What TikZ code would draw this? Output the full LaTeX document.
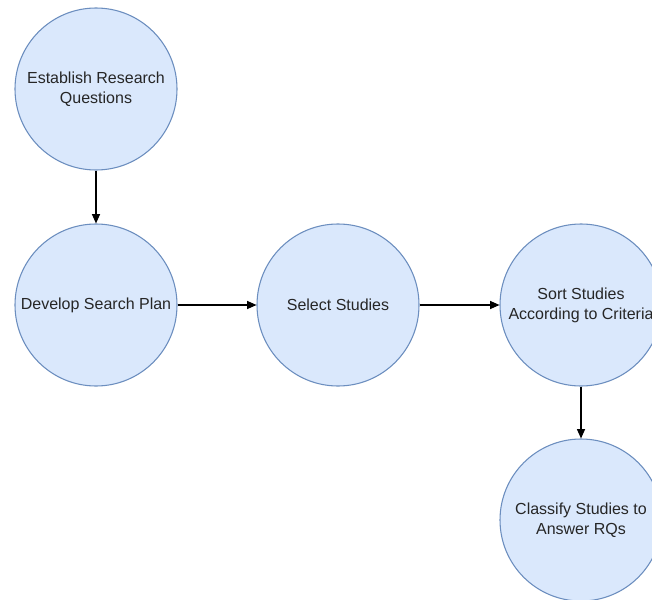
\documentclass[tikz,border=0pt]{standalone}
\usepackage{fontspec}
\setmainfont{Liberation Sans}
\usetikzlibrary{arrows.meta}
\definecolor{cfill}{HTML}{DAE8FC}
\definecolor{cline}{HTML}{6C8EBF}
\definecolor{ctext}{HTML}{262626}
\begin{document}
\begin{tikzpicture}[x=0.75pt,y=-0.75pt,
  stage/.style={circle,draw=cline,fill=cfill,line width=0.8pt,minimum size=121.5pt,inner sep=0pt,
    align=center,text=ctext,font=\fontsize{12}{15}\selectfont},
  conn/.style={-{Triangle[length=7pt,width=6pt]},line width=0.9pt,black}]
\clip (0,0) rectangle (652,599);
\fill[white] (0,0) rectangle (652,599);
\node[stage] (rq) at (96,89) {Establish Research\\Questions};
\node[stage] (plan) at (96,305) {Develop Search Plan};
\node[stage] (sel) at (338,305) {Select Studies};
\node[stage] (sort) at (581,305) {Sort Studies\\According to Criteria};
\node[stage] (cls) at (581,520) {Classify Studies to\\Answer RQs};
\draw[conn] (rq) -- (plan);
\draw[conn] (plan) -- (sel);
\draw[conn] (sel) -- (sort);
\draw[conn] (sort) -- (cls);
\end{tikzpicture}
\end{document}
